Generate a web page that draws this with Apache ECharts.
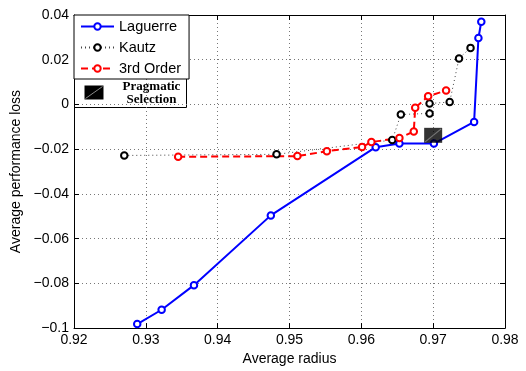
<!DOCTYPE html>
<html>
<head>
<meta charset="utf-8">
<script src="https://cdn.jsdelivr.net/npm/echarts@6/dist/echarts.min.js"></script>
<style>html,body{margin:0;padding:0;background:#fff}#c{width:526px;height:371px}</style>
</head>
<body>
<div id="c"></div>
<script>
// ---- data ----
var laguerreX = [0.9288, 0.9322, 0.9367, 0.9474, 0.9620, 0.9653, 0.9701, 0.9757, 0.9763, 0.9767];
var laguerreY = [-0.0982, -0.0918, -0.0808, -0.0496, -0.0191, -0.0175, -0.0175, -0.0078, 0.0297, 0.0370];
var kautzX = [0.9270, 0.9482, 0.9643, 0.9655, 0.9695, 0.9695, 0.9723, 0.9736, 0.9752];
var kautzY = [-0.0228, -0.0223, -0.0159, -0.0045, -0.0040, 0.0004, 0.0011, 0.0206, 0.0253];
var thirdX = [0.9345, 0.9511, 0.9552, 0.9601, 0.9614, 0.9653, 0.9673, 0.9675, 0.9693, 0.9718];
var thirdY = [-0.0234, -0.0231, -0.0209, -0.0190, -0.0168, -0.0150, -0.0121, -0.0015, 0.0037, 0.0062];
var pragmaticX = [0.9700];
var pragmaticY = [-0.0138];
var seriesNames = ['Laguerre', 'Kautz', '3rd Order'];
var xTicks = ['0.92', '0.93', '0.94', '0.95', '0.96', '0.97', '0.98'];
var yTicks = ['\u22120.1', '\u22120.08', '\u22120.06', '\u22120.04', '\u22120.02', '0', '0.02', '0.04'];

function pairs(xs, ys) { return xs.map(function (x, i) { return [x, ys[i]]; }); }

var FONT = '"Liberation Sans", Arial, Helvetica, sans-serif';
var gridLine = { show: true, lineStyle: { color: '#777', type: [1, 3], width: 1 } };

var chart = echarts.init(document.getElementById('c'), null, { renderer: 'canvas' });
chart.setOption({
  animation: false,
  backgroundColor: '#fff',
  grid: { left: 74, right: 21, top: 15, bottom: 36, containLabel: false },
  xAxis: [{
    type: 'value', min: 0.92, max: 0.98, interval: 0.01,
    name: 'Average radius', nameLocation: 'middle', nameGap: 21,
    nameTextStyle: { fontFamily: FONT, fontSize: 14, color: '#000' },
    axisLine: { show: true, onZero: false, lineStyle: { color: '#000', width: 1 } },
    axisTick: { show: true, inside: true, length: 5, lineStyle: { color: '#000' } },
    axisLabel: { fontFamily: FONT, fontSize: 14, color: '#000', margin: 5,
      formatter: function (v) { return xTicks[Math.round((v - 0.92) / 0.01)]; } },
    splitLine: gridLine
  }, {
    type: 'value', min: 0.92, max: 0.98, interval: 0.01, position: 'top',
    axisLine: { show: true, onZero: false, lineStyle: { color: '#000', width: 1 } },
    axisTick: { show: true, inside: true, length: 5, lineStyle: { color: '#000' } },
    axisLabel: { show: false }, splitLine: { show: false }
  }],
  yAxis: [{
    type: 'value', min: -0.1, max: 0.04, interval: 0.02,
    name: 'Average performance loss', nameLocation: 'middle', nameGap: 41,
    nameTextStyle: { fontFamily: FONT, fontSize: 14, color: '#000' },
    axisLine: { show: true, onZero: false, lineStyle: { color: '#000', width: 1 } },
    axisTick: { show: true, inside: true, length: 5, lineStyle: { color: '#000' } },
    axisLabel: { fontFamily: FONT, fontSize: 14, color: '#000', margin: 5,
      formatter: function (v) { return yTicks[Math.round((v + 0.1) / 0.02)]; } },
    splitLine: gridLine
  }, {
    type: 'value', min: -0.1, max: 0.04, interval: 0.02, position: 'right',
    axisLine: { show: true, onZero: false, lineStyle: { color: '#000', width: 1 } },
    axisTick: { show: true, inside: true, length: 5, lineStyle: { color: '#000' } },
    axisLabel: { show: false }, splitLine: { show: false }
  }],
  legend: {
    orient: 'vertical', left: 74, top: 15,
    itemWidth: 33, itemHeight: 8, itemGap: 6,
    padding: [4, 8, 3, 6],
    backgroundColor: '#fff', borderColor: '#000', borderWidth: 1, borderRadius: 0,
    textStyle: { fontFamily: FONT, fontSize: 14.5, color: '#000', lineHeight: 14 },
    data: seriesNames
  },
  series: [{
    name: seriesNames[0], type: 'line', data: pairs(laguerreX, laguerreY),
    symbol: 'emptyCircle', symbolSize: 6.5,
    lineStyle: { color: '#0000ff', width: 2 },
    itemStyle: { color: '#0000ff', borderColor: '#0000ff', borderWidth: 1.8 }
  }, {
    name: seriesNames[1], type: 'line', data: pairs(kautzX, kautzY),
    symbol: 'emptyCircle', symbolSize: 6.5,
    lineStyle: { color: '#444', width: 1, type: [1, 3] },
    itemStyle: { color: '#000', borderColor: '#000', borderWidth: 1.8 }
  }, {
    name: seriesNames[2], type: 'line', data: pairs(thirdX, thirdY),
    symbol: 'emptyCircle', symbolSize: 6.5,
    lineStyle: { color: '#ff0000', width: 2, type: [7, 4] },
    itemStyle: { color: '#ff0000', borderColor: '#ff0000', borderWidth: 1.8 }
  }, {
    name: 'Pragmatic Selection', type: 'scatter', data: pairs(pragmaticX, pragmaticY),
    symbol: 'rect', symbolSize: [18, 15], z: 5,
    itemStyle: { color: '#000' }
  }, {
    name: 'Pragmatic diag', type: 'scatter', data: pairs(pragmaticX, pragmaticY),
    symbol: 'path://M0,10L10,0', symbolSize: [16, 13], z: 6,
    itemStyle: { color: 'none', borderColor: '#888', borderWidth: 1 }
  }],
  graphic: [{
    type: 'group', left: 74, top: 76,
    children: [
      { type: 'rect', shape: { x: 0, y: 0, width: 112, height: 31 }, style: { fill: '#fff', stroke: '#000', lineWidth: 1 } },
      { type: 'rect', shape: { x: 10, y: 9, width: 19, height: 14 }, style: { fill: '#000' } },
      { type: 'line', shape: { x1: 11, y1: 22, x2: 28, y2: 10 }, style: { stroke: '#888', lineWidth: 1 } },
      { type: 'text', x: 77, y: 10, style: { text: 'Pragmatic', font: 'bold 13px "Liberation Serif", "Times New Roman", serif', fill: '#000', align: 'center', verticalAlign: 'middle' } },
      { type: 'text', x: 77, y: 23, style: { text: 'Selection', font: 'bold 13px "Liberation Serif", "Times New Roman", serif', fill: '#000', align: 'center', verticalAlign: 'middle' } }
    ]
  }]
});
</script>
</body>
</html>
